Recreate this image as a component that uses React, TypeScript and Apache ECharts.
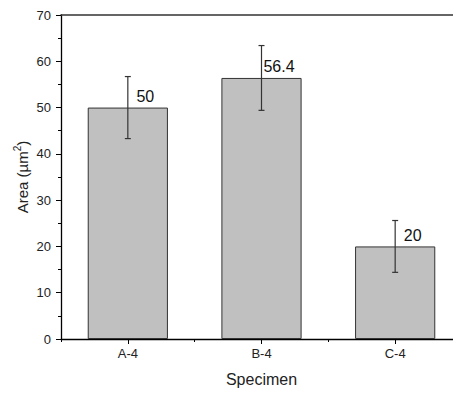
import React, { useEffect, useRef } from "react";
import * as echarts from "echarts";

const categories = ["A-4", "B-4", "C-4"];
const areaValues = [50, 56.4, 20];
const errorValues = [6.7, 7.0, 5.6];
const dataLabels = ["50", "56.4", "20"];

export default function App() {
  const ref = useRef<HTMLDivElement>(null);
  useEffect(() => {
    if (!ref.current) return;
    const chart = echarts.init(ref.current, undefined, { renderer: "svg" });
    const font = "Arial, 'Liberation Sans', sans-serif";
    const errData = areaValues.map((v, i) => [i, v - errorValues[i], v + errorValues[i]]);
    chart.setOption({
      animation: false,
      backgroundColor: "#ffffff",
      grid: { left: 61, top: 15, width: 401, height: 324, outerBoundsMode: "none", containLabel: false },
      xAxis: [
        {
          type: "category",
          data: categories,
          position: "bottom",
          axisLine: { show: true, lineStyle: { color: "#000", width: 1.3 } },
          axisTick: { show: true, alignWithLabel: true, length: 5, lineStyle: { color: "#000" } },
          axisLabel: { color: "#222", fontSize: 13, fontFamily: font, margin: 8 },
          name: "Specimen",
          nameLocation: "middle",
          nameGap: 32,
          nameMoveOverlap: false,
          nameTextStyle: { color: "#222", fontSize: 16, fontFamily: font },
          splitLine: { show: false },
        },
        {
          type: "category",
          data: categories,
          position: "bottom",
          axisLine: { show: false },
          axisTick: { show: true, alignWithLabel: false, length: 3, lineStyle: { color: "#000" } },
          axisLabel: { show: false },
          splitLine: { show: false },
        },
        {
          type: "category",
          data: categories,
          position: "top",
          axisLine: { show: true, lineStyle: { color: "#333", width: 1.5 } },
          axisTick: { show: false },
          axisLabel: { show: false },
          splitLine: { show: false },
        },
      ],
      yAxis: {
        type: "value",
        min: 0,
        max: 70,
        interval: 10,
        axisLine: { show: true, lineStyle: { color: "#000", width: 1.3 } },
        axisTick: { show: true, length: 5, lineStyle: { color: "#000" } },
        minorTick: { show: true, splitNumber: 2, length: 3, lineStyle: { color: "#000" } },
        axisLabel: { color: "#222", fontSize: 13, fontFamily: font, margin: 10 },
        splitLine: { show: false },
        name: "Area (µm{sup|2})",
        nameLocation: "middle",
        nameGap: 29,
        nameMoveOverlap: false,
        nameTextStyle: {
          color: "#222",
          fontSize: 15,
          fontFamily: font,
          lineHeight: 20,
          rich: {
            sup: { fontSize: 10, fontFamily: font, color: "#222", verticalAlign: "top", lineHeight: 10 },
          },
        },
      },
      series: [
        {
          type: "bar",
          xAxisIndex: 0,
          data: areaValues,
          barWidth: "60%",
          itemStyle: { color: "#c0c0c0", borderColor: "#333", borderWidth: 1 },
          label: {
            show: true,
            position: ["50%", 0],
            offset: [17.5, -11],
            align: "center",
            verticalAlign: "middle",
            fontSize: 16,
            fontFamily: font,
            color: "#111",
            formatter: (p: any) => dataLabels[p.dataIndex],
          },
        },
        {
          type: "custom",
          xAxisIndex: 0,
          data: errData,
          z: 10,
          renderItem: (params: any, api: any) => {
            const x = api.value(0);
            const lo = api.coord([x, api.value(1)]);
            const hi = api.coord([x, api.value(2)]);
            const hw = 3;
            const style = { stroke: "#333", lineWidth: 1.2 };
            return {
              type: "group",
              children: [
                { type: "line", shape: { x1: lo[0], y1: lo[1], x2: hi[0], y2: hi[1] }, style },
                { type: "line", shape: { x1: hi[0] - hw, y1: hi[1], x2: hi[0] + hw, y2: hi[1] }, style },
                { type: "line", shape: { x1: lo[0] - hw, y1: lo[1], x2: lo[0] + hw, y2: lo[1] }, style },
              ],
            };
          },
        },
      ],
    });
    return () => chart.dispose();
  }, []);
  return (
    <div
      ref={ref}
      style={{ position: "absolute", left: 0, top: 0, width: 453, height: 395 }}
    />
  );
}
